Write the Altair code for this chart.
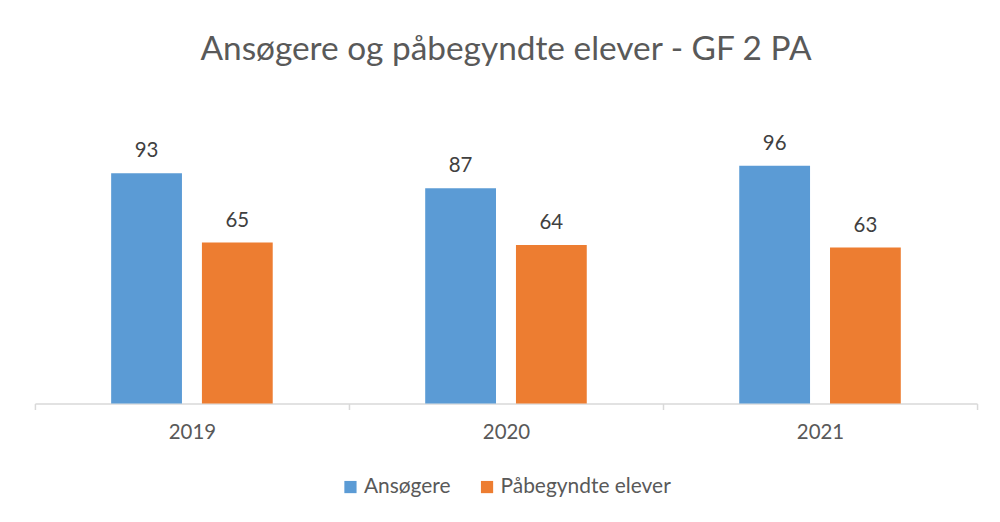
import altair as alt
import pandas as pd

years = ["2019", "2020", "2021"]
series = ["Ansøgere", "Påbegyndte elever"]
ansogere = [93, 87, 96]
pabegyndte = [65, 64, 63]
colors = ["#5B9BD5", "#ED7D31"]

rows = []
for i, y in enumerate(years):
    rows.append({"year": y, "serie": series[0], "value": ansogere[i], "order": 0})
    rows.append({"year": y, "serie": series[1], "value": pabegyndte[i], "order": 1})
df = pd.DataFrame(rows)

FONT = "Lato"

x = alt.X("year:N", title=None, sort=years,
          scale=alt.Scale(paddingInner=0, paddingOuter=0),
          axis=alt.Axis(labelAngle=0, labelFontSize=20.5, labelColor="#595959",
                        labelFont=FONT, domainColor="#D9D9D9", tickColor="#D9D9D9",
                        tickBand="extent", tickSize=6, labelPadding=13,
                        domainWidth=1.5, tickWidth=1.5))
xo = alt.XOffset("serie:N", sort=series,
                 scale=alt.Scale(paddingInner=0.22, paddingOuter=0.84))
y = alt.Y("value:Q", scale=alt.Scale(domain=[0, 120]), axis=None)

bars = alt.Chart(df).mark_bar().encode(
    x=x, xOffset=xo, y=y,
    color=alt.Color("serie:N", sort=series,
                    scale=alt.Scale(domain=series, range=colors),
                    legend=alt.Legend(title=None, orient="none", direction="horizontal",
                                      legendX=306, legendY=371, symbolType="square",
                                      symbolSize=150, symbolStrokeWidth=0,
                                      labelFontSize=21, labelColor="#595959",
                                      labelFont=FONT, columnPadding=26, labelOffset=3,
                                      labelLimit=400)),
)

labels = alt.Chart(df).mark_text(baseline="bottom", dy=-12, fontSize=20.5,
                                 color="#404040", font=FONT).encode(
    x=x, xOffset=xo, y=y, text=alt.Text("value:Q")
)

chart = alt.layer(bars, labels).properties(
    width=945, height=298,
    autosize=alt.AutoSizeParams(type="none"),
    padding={"left": 27, "top": 98, "right": 15, "bottom": 100},
    title=alt.TitleParams("Ansøgere og påbegyndte elever - GF 2 PA", fontSize=33.5,
                          font=FONT, fontWeight="normal", color="#595959",
                          anchor="middle", offset=39),
).configure_view(stroke=None)

chart.save("out.html", embed_options={"renderer": "svg", "actions": False})
